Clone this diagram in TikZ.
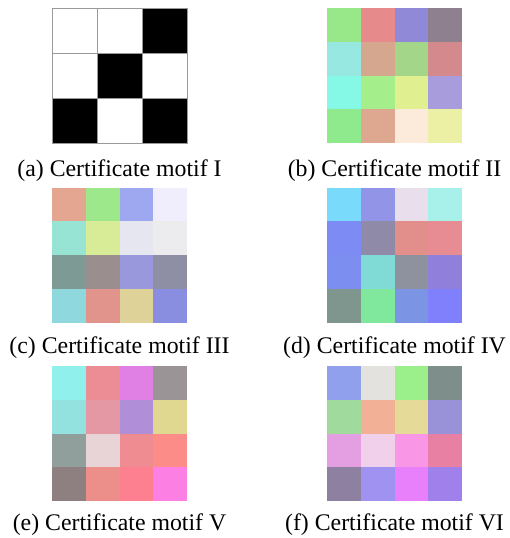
\documentclass[tikz,border=0pt]{standalone}
\usepackage{fontspec}
\setmainfont{Liberation Serif}

% one square of a motif, colour given as hex
\newcommand{\cellfill}[4]{%
  \definecolor{cellc}{HTML}{#4}%
  \fill[cellc] (#1,#2) rectangle ++(#3,#3);
}
% 4x4 motif, top left corner at (#1,#2), 16 colours row by row
\newcommand{\motif}[3]{%
  \foreach \c [count=\i from 0] in {#3} {
    \pgfmathtruncatemacro{\col}{mod(\i,4)}
    \pgfmathtruncatemacro{\row}{div(\i,4)}
    \cellfill{#1+\col*33.75}{#2+\row*33.75}{33.75}{\c}
  }
}

\begin{document}
\begin{tikzpicture}[x=1pt,y=-1pt]
\tikzstyle{every node}+=[inner sep=0pt]
\tikzstyle{caption}=[anchor=base,font=\fontsize{23.8}{26}\selectfont]
\useasboundingbox (0,0) rectangle (510,538);

% (a) black and white
\foreach \c [count=\i from 0] in {white,white,black,white,black,white,black,white,black} {
  \pgfmathtruncatemacro{\col}{mod(\i,3)}
  \pgfmathtruncatemacro{\row}{div(\i,3)}
  \draw[fill=\c,draw=gray!80,line width=0.6pt] (52+\col*45,8+\row*45) rectangle ++(45,45);
}
\node[caption] (capa) at (119.5,176) {(a) Certificate motif I};

% (b)
\motif{327}{8}{98E88A,E68A8C,9089D8,8E808E,
  96E8E0,D4A78E,A4D68A,D48A8C,
  86F8E6,A4EE8C,E0F090,A89CDC,
  8EEA8C,DEA890,FCEADA,ECF0A4}
\node[caption] (capb) at (394.5,176) {(b) Certificate motif II};

% (c)
\motif{52}{187.5}{E4A690,9EE88C,9EA8F0,F0EEFC,
  98E4D4,D8EC98,E6E6F0,ECECEE,
  7E9A94,9A8E8E,9A98DC,8E8EA4,
  8ED8DE,E0948C,DED298,8A8EE0}
\node[caption] (capc) at (119.5,353) {(c) Certificate motif III};

% (d)
\motif{327}{187.5}{7ADAFC,9294E8,E8DEEC,A8F0EA,
  7C8CF4,8E8AA8,E28E8A,E88C94,
  7C8EF0,80DAD6,8E929E,9080DC,
  7E968E,80E89C,7C94E4,8080FC}
\node[caption] (capd) at (394.5,353) {(d) Certificate motif IV};

% (e)
\motif{52}{366}{90F0EC,EC8C94,E080E4,9A9496,
  94E2E0,E498A4,B08ED8,E0D890,
  909E9C,E8D4D6,EE8C92,FC8C88,
  8E8080,EC8E8A,FC8090,FC80E4}
\node[caption] (cape) at (119.5,530) {(e) Certificate motif V};

% (f)
\motif{327}{366}{90A0EC,E4E2DE,9CF08C,7E8E8A,
  A0DA9C,F2B096,E6DA98,9A92D8,
  E49EE2,F0D0EA,FA96E6,E880A4,
  8E80A0,A092F0,E880FC,A080EA}
\node[caption] (capf) at (394.5,530) {(f) Certificate motif VI};
\end{tikzpicture}
\end{document}
